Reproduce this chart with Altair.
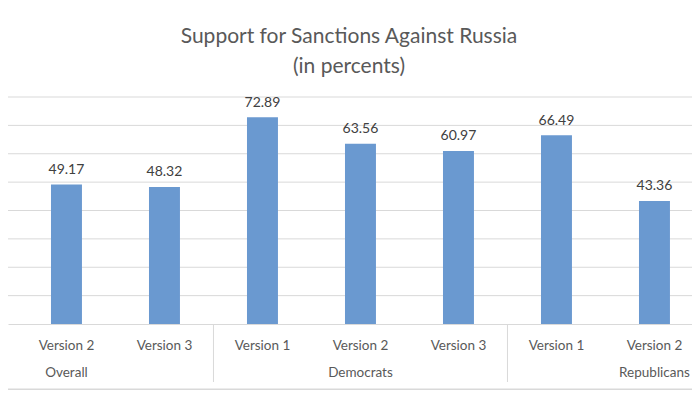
import altair as alt
import pandas as pd

# ---- data ----
groups = ["Overall", "Overall", "Democrats", "Democrats", "Democrats", "Republicans", "Republicans"]
versions = ["Version 2", "Version 3", "Version 1", "Version 2", "Version 3", "Version 1", "Version 2"]
values = [49.17, 48.32, 72.89, 63.56, 60.97, 66.49, 43.36]
group_names = ["Overall", "Democrats", "Republicans"]
title_lines = ["Support for Sanctions Against Russia", "(in percents)"]
y_ticks = [10, 20, 30, 40, 50, 60, 70, 80]

keys = [f"{g}|{v}" for g, v in zip(groups, versions)]
df = pd.DataFrame({"key": keys, "group": groups, "version": versions, "value": values})

# group label sits under the middle version of each (full) group
grp_df = pd.DataFrame({"group": group_names, "key": [f"{g}|Version 2" for g in group_names]})
# separators: after the last visible category of each preceding group
sep_keys = []
for i in range(1, len(groups)):
    if groups[i] != groups[i - 1]:
        sep_keys.append(keys[i - 1])
sep_df = pd.DataFrame({"key": sep_keys})
grid_df = pd.DataFrame({"v": y_ticks})
title_df = pd.DataFrame({"t": [title_lines[0]]})
title2_df = pd.DataFrame({"t": [title_lines[1]]})

W, H = 684, 227
PI, PO, ALIGN = 0.684, 0.3318, 0.661
STEP = W / (len(keys) - PI + 2 * PO)
FONT = "Lato"
BAR = "#6a99d0"
GRID = "#d9d9d9"
TXT = "#595959"

xscale = alt.Scale(domain=keys, paddingInner=PI, paddingOuter=PO, align=ALIGN)
xaxis = alt.Axis(
    title=None, ticks=False, labelAngle=0, labelFontSize=13.5, labelFont=FONT,
    labelColor=TXT, labelPadding=25, labelBaseline="alphabetic",
    labelExpr="split(datum.label, '|')[1]", domainColor=GRID, domainWidth=1,
    grid=False,
)
yscale = alt.Scale(domain=[0, 80], nice=False)

gridlines = alt.Chart(grid_df).mark_rule(color=GRID, strokeWidth=1).encode(
    y=alt.Y("v:Q", scale=yscale, axis=None),
    x=alt.value(0), x2=alt.value(W),
)
base = alt.Chart(df)
bars = base.mark_bar(color=BAR).encode(
    x=alt.X("key:N", scale=xscale, axis=xaxis, sort=None),
    y=alt.Y("value:Q", scale=yscale, axis=None),
)
labels = base.mark_text(font=FONT, fontSize=14, color="#404040", baseline="alphabetic", dy=-10.5).encode(
    x=alt.X("key:N", scale=xscale, sort=None, axis=xaxis),
    y=alt.Y("value:Q", scale=yscale, axis=None),
    text=alt.Text("value:Q", format=".2f"),
)
grp = alt.Chart(grp_df).mark_text(font=FONT, fontSize=13.5, color=TXT, baseline="alphabetic").encode(
    x=alt.X("key:N", scale=xscale, sort=None, axis=xaxis),
    y=alt.value(H + 52.7),
    text="group:N",
)
seps = alt.Chart(sep_df).mark_rule(color=GRID, strokeWidth=1, xOffset=PI * STEP / 2).encode(
    x=alt.X("key:N", scale=xscale, sort=None, bandPosition=1, axis=xaxis),
    y=alt.value(H + 1),
    y2=alt.value(H + 58),
)
bottom = alt.Chart(title_df).mark_rule(color=GRID, strokeWidth=1.5).encode(
    x=alt.value(0), x2=alt.value(W), y=alt.value(H + 65.3)
)
t1 = alt.Chart(title_df).mark_text(font=FONT, fontSize=21, color=TXT, baseline="alphabetic").encode(
    x=alt.value(W / 2 - 1), y=alt.value(-53.7), text="t:N"
)
t2 = alt.Chart(title2_df).mark_text(font=FONT, fontSize=21, color=TXT, baseline="alphabetic").encode(
    x=alt.value(W / 2 - 1), y=alt.value(-24.3), text="t:N"
)

chart = alt.layer(gridlines, bars, labels, grp, seps, bottom, t1, t2).properties(
    width=W, height=H,
    background="white",
    autosize=alt.AutoSizeParams(type="none"),
    padding={"left": 0, "top": 89, "right": 0, "bottom": 70},
).configure_view(strokeWidth=0, strokeOpacity=0)

chart.save("out.html", embed_options={"renderer": "svg", "actions": False})
